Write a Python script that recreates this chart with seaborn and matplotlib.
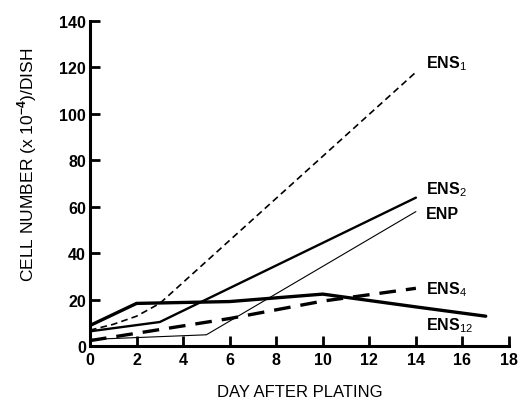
import matplotlib
matplotlib.use("Agg")
import matplotlib.pyplot as plt
import seaborn as sns
import pandas as pd

# data
ens1_x = [0, 1, 2, 3, 14]
ens1_y = [7, 9.5, 13, 18.5, 118]
ens2_x = [0, 3, 14]
ens2_y = [6.5, 10.5, 64]
enp_x = [0, 5, 14]
enp_y = [3, 5, 58]
ens4_x = [0, 6, 10, 14]
ens4_y = [2.5, 12, 19.5, 25]
ens12_x = [0, 2, 6, 10, 14, 17]
ens12_y = [9, 18.5, 19.3, 22.5, 17, 13]

series_labels = ["ENS$_1$", "ENS$_2$", "ENP", "ENS$_4$", "ENS$_{12}$"]
label_y = [122, 68, 57, 25, 9.5]
x_ticks = [0, 2, 4, 6, 8, 10, 12, 14, 16, 18]
y_ticks = [0, 20, 40, 60, 80, 100, 120, 140]

sns.set_theme(style="white")
plt.rcParams['font.family'] = ['Liberation Sans', 'DejaVu Sans']
plt.rcParams['mathtext.fontset'] = 'custom'
plt.rcParams['mathtext.rm'] = 'Liberation Sans'
plt.rcParams['mathtext.bf'] = 'Liberation Sans:bold'

fig = plt.figure(figsize=(5.21, 4.06), dpi=100)
ax = fig.add_axes([0.1727, 0.1443, 0.977 - 0.1727, 0.9458 - 0.1443])

styles = [
    dict(lw=1.2, ls=(0, (4, 2.5))),
    dict(lw=1.7, ls="-"),
    dict(lw=0.8, ls="-"),
    dict(lw=2.4, ls=(0, (5, 3))),
    dict(lw=2.4, ls="-"),
]
xs = [ens1_x, ens2_x, enp_x, ens4_x, ens12_x]
ys = [ens1_y, ens2_y, enp_y, ens4_y, ens12_y]
for x, y, st in zip(xs, ys, styles):
    df = pd.DataFrame({"x": x, "y": y})
    sns.lineplot(data=df, x="x", y="y", ax=ax, color="black",
                 linewidth=st["lw"], linestyle=st["ls"], sort=False,
                 estimator=None)

for lab, ly in zip(series_labels, label_y):
    ax.text(14.45, ly, lab, fontsize=11.5, fontweight="bold", color="black",
            ha="left", va="center")

ax.set_xlim(0, 18)
ax.set_ylim(0, 140)
ax.set_xticks(x_ticks)
ax.set_yticks(y_ticks)
ax.set_xticklabels([str(t) for t in x_ticks], fontsize=11.5, fontweight="bold")
ax.set_yticklabels([str(t) for t in y_ticks], fontsize=11.5, fontweight="bold")
ax.tick_params(axis="both", direction="in", length=7.5, width=2, color="black",
               bottom=True, left=True, labelcolor="black")
ax.tick_params(axis="y", pad=3)
ax.tick_params(axis="x", pad=4)
for s in ["top", "right"]:
    ax.spines[s].set_visible(False)
for s in ["left", "bottom"]:
    ax.spines[s].set_linewidth(2.2)
    ax.spines[s].set_color("black")

ax.set_xlabel("DAY AFTER PLATING", fontsize=12, color="black", labelpad=12)
ax.set_ylabel(r"CELL NUMBER (x 10$^{\mathbf{-4}}$)/DISH", fontsize=12.5,
              color="black", labelpad=2)
ax.yaxis.set_label_coords(-0.122, 0.56)
ax.grid(False)
ax.set_facecolor("white")

fig.savefig("out.png", dpi=100, facecolor="white")
